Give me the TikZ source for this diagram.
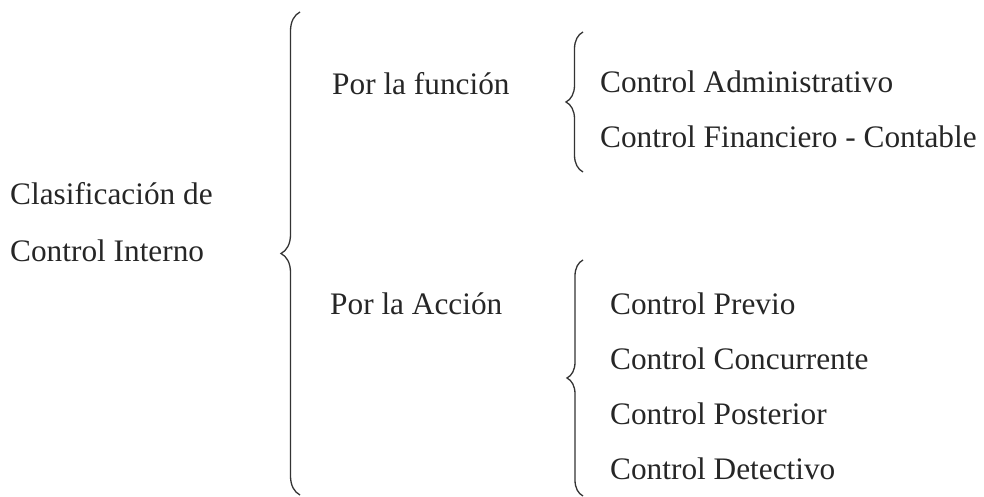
\documentclass[tikz,border=0pt]{standalone}
\usepackage{fontspec}
\setmainfont{Liberation Serif}
\usetikzlibrary{decorations.pathreplacing, positioning}

\begin{document}
\begin{tikzpicture}[x=1pt, y=1pt, node distance=55pt, txt/.style={anchor=base west, inner sep=0pt, text=black!85, font=\fontsize{31.3pt}{38pt}\selectfont}, curly/.style={decorate, decoration={brace, amplitude=#1}, line width=1.3pt, draw=black!80}]
\useasboundingbox (0,0) rectangle (984,497);

        \node[txt] (cls) at (10,292) {Clasificación de};
        \node[txt, below=57pt of cls.base west, anchor=base west] (cint) {Control Interno};
        \node[txt] (fun) at (332,402) {Por la función};
        \node[txt] (acc) at (330,182) {Por la Acción};
        \node[txt] (adm) at (600,404) {Control Administrativo};
        \node[txt, below=of adm.base west, anchor=base west] (fin) {Control Financiero - Contable};
        \node[txt] (pre) at (610,182) {Control Previo};
        \node[txt, below=of pre.base west, anchor=base west] (con) {Control Concurrente};
        \node[txt, below=of con.base west, anchor=base west] (pos) {Control Posterior};
        \node[txt, below=of pos.base west, anchor=base west] (det) {Control Detectivo};

        \coordinate (bigB) at (300,2);
        \coordinate (bigT) at (300,485);
        \coordinate (funB) at (583,325);
        \coordinate (funT) at (583,465);
        \coordinate (accB) at (583,1);
        \coordinate (accT) at (583,237);
        \draw[curly=19pt] (bigB) -- (bigT);
        \draw[curly=17pt] (funB) -- (funT);
        \draw[curly=16pt] (accB) -- (accT);

    \end{tikzpicture}
\end{document}
